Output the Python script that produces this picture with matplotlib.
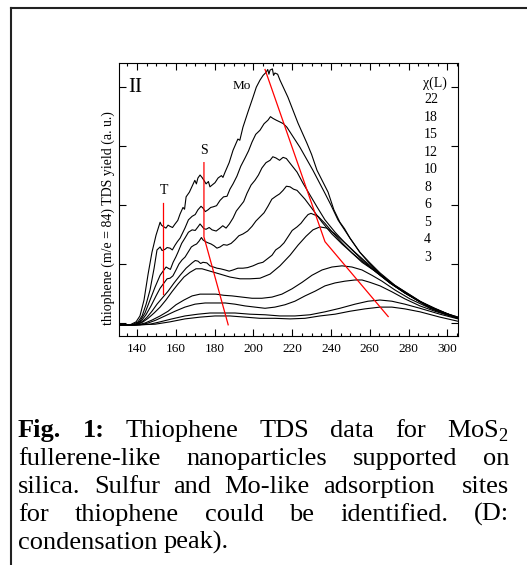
import matplotlib
matplotlib.use('Agg')
import matplotlib.pyplot as plt
from matplotlib.lines import Line2D

plt.rcParams['font.family'] = 'Liberation Serif'
plt.rcParams['mathtext.fontset'] = 'custom'
plt.rcParams['mathtext.rm'] = 'Liberation Serif'

# thiophene TDS curves, one per exposure (L); *_n lists are the noisy wiggles
t_22 = [130.7, 136.4, 139.5, 141.5, 143.6, 145.7, 147.7, 149.8, 151.9, 153.4, 154.9, 157.0, 159.6, 162.2, 165.3, 168.4,
        171.4, 173.5, 175.6, 178.7, 181.8, 185.4, 189.5, 194.6, 199.8, 203.4, 206.5, 208.6, 211.1, 213.7, 217.8, 223.0,
        227.6, 232.8, 238.5, 244.6, 249.8, 254.9, 260.1, 265.3, 273.0, 279.2, 285.9, 291.0, 298.8, 305.5]
y_22 = [-0.03, -0.03, 0.02, 0.12, 0.39, 0.83, 1.20, 1.49, 1.71, 1.64, 1.61, 1.64, 1.68, 1.85, 2.14, 2.32,
        2.46, 2.47, 2.36, 2.34, 2.46, 2.56, 2.93, 3.32, 3.83, 4.12, 4.25, 4.29, 4.24, 4.12, 3.83, 3.39,
        3.05, 2.59, 2.22, 1.71, 1.44, 1.20, 1.02, 0.85, 0.64, 0.51, 0.37, 0.27, 0.17, 0.10]
t_22_n = [152.6, 156.0, 158.3, 161.0, 163.7, 164.5, 167.0, 169.8, 170.6, 172.5, 174.5, 176.8, 177.6, 180.2, 183.5,
          184.3, 187.5, 192.0, 193.0, 197.2, 201.5, 205.0, 207.4, 208.0, 209.8, 210.4, 212.5, 230.0, 241.5, 247.0]
y_22_n = [1.66, 1.66, 1.62, 1.74, 1.96, 1.93, 2.22, 2.42, 2.36, 2.51, 2.42, 2.40, 2.31, 2.38, 2.50,
          2.47, 2.72, 3.12, 3.10, 3.58, 4.00, 4.20, 4.30, 4.22, 4.31, 4.20, 4.22, 2.86, 1.92, 1.60]

t_18 = [130.7, 137.4, 140.5, 142.6, 144.6, 146.7, 148.8, 150.3, 151.9, 154.4, 157.0, 159.6, 162.2, 164.7, 168.4, 171.4,
        174.0, 176.6, 179.2, 182.8, 186.4, 187.9, 191.5, 195.7, 199.3, 203.4, 207.5, 210.1, 213.7, 217.3, 224.0, 230.7,
        236.9, 243.6, 249.8, 254.9, 260.1, 265.3, 273.0, 279.2, 285.9, 291.0, 298.8, 305.5]
y_18 = [-0.03, -0.03, 0.02, 0.12, 0.31, 0.56, 0.93, 1.24, 1.29, 1.25, 1.27, 1.32, 1.44, 1.61, 1.81, 1.92,
        1.95, 1.92, 1.97, 2.08, 2.15, 2.27, 2.49, 2.80, 3.07, 3.27, 3.44, 3.47, 3.41, 3.32, 2.98, 2.59,
        2.20, 1.75, 1.44, 1.20, 1.00, 0.83, 0.63, 0.49, 0.36, 0.25, 0.15, 0.08]
t_18_n = [152.9, 155.5, 158.2, 160.8, 166.5, 170.0, 173.0, 175.2, 178.0, 181.0, 184.6, 189.5, 193.5, 197.5, 201.2,
          205.5, 208.8, 211.8, 215.5, 240.0]
y_18_n = [1.23, 1.28, 1.24, 1.38, 1.75, 1.84, 1.98, 1.89, 1.96, 1.99, 2.14, 2.36, 2.66, 2.92, 3.20,
          3.38, 3.50, 3.44, 3.38, 2.00]

t_15 = [130.7, 138.5, 141.5, 144.1, 146.7, 149.3, 151.9, 153.4, 156.0, 158.6, 161.1, 164.7, 168.4, 171.4, 173.5, 175.6,
        178.7, 182.8, 185.9, 189.5, 193.1, 196.7, 200.8, 204.4, 208.6, 211.6, 215.3, 218.9, 222.5, 225.6, 229.2, 232.8,
        236.9, 242.1, 247.2, 252.4, 257.5, 262.7, 270.4, 278.1, 285.9, 293.6, 305.5]
y_15 = [-0.03, -0.03, 0.03, 0.17, 0.39, 0.61, 0.81, 0.88, 0.93, 1.03, 1.20, 1.44, 1.58, 1.63, 1.64, 1.59,
        1.58, 1.61, 1.61, 1.78, 1.98, 2.20, 2.42, 2.63, 2.76, 2.80, 2.81, 2.71, 2.56, 2.37, 2.17, 1.97,
        1.75, 1.54, 1.36, 1.19, 1.03, 0.88, 0.68, 0.51, 0.36, 0.24, 0.08]
t_15_n = [155.0, 157.2, 160.0, 163.0, 166.5, 170.0, 172.5, 174.5, 177.2, 180.8, 184.2, 187.6, 191.2, 195.0, 198.8,
          202.6, 206.5, 210.0, 213.5, 217.0]
y_15_n = [0.95, 0.91, 1.12, 1.35, 1.54, 1.57, 1.68, 1.60, 1.62, 1.56, 1.65, 1.68, 1.90, 2.06, 2.34,
          2.51, 2.72, 2.82, 2.76, 2.79]

t_12 = [130.7, 139.0, 142.1, 144.6, 147.2, 149.8, 151.9, 153.9, 157.0, 160.1, 163.2, 166.3, 169.4, 172.0, 174.0, 176.6,
        179.7, 182.8, 186.4, 190.5, 194.6, 199.3, 203.4, 207.5, 211.6, 215.3, 218.9, 222.5, 226.6, 230.7, 235.4, 240.5,
        245.7, 250.8, 256.0, 262.7, 270.4, 278.1, 285.9, 293.6, 305.5]
y_12 = [-0.03, -0.03, 0.03, 0.14, 0.29, 0.46, 0.59, 0.68, 0.76, 0.90, 1.07, 1.20, 1.32, 1.39, 1.41, 1.36,
        1.31, 1.29, 1.32, 1.41, 1.51, 1.64, 1.80, 1.98, 2.15, 2.25, 2.31, 2.25, 2.10, 1.92, 1.71, 1.51,
        1.34, 1.19, 1.05, 0.88, 0.68, 0.51, 0.36, 0.24, 0.08]
t_12_n = [155.5, 158.5, 161.6, 164.8, 168.0, 170.7, 173.2, 175.3, 178.2, 181.2, 184.6, 188.5, 192.5, 197.0, 201.3,
          205.5, 209.5, 213.5, 217.0, 220.7]
y_12_n = [0.75, 0.80, 1.00, 1.12, 1.29, 1.34, 1.45, 1.38, 1.34, 1.27, 1.33, 1.35, 1.48, 1.56, 1.73,
          1.87, 2.10, 2.19, 2.32, 2.27]

t_10 = [130.7, 139.5, 142.6, 145.2, 147.7, 150.3, 152.9, 156.0, 159.1, 162.2, 165.3, 168.4, 171.4, 174.0, 177.6, 181.2,
        185.4, 189.5, 194.6, 199.8, 204.9, 209.6, 213.7, 217.8, 222.5, 226.6, 229.7, 233.3, 236.9, 241.0, 245.7, 250.8,
        256.0, 262.7, 270.4, 278.1, 285.9, 293.6, 305.5]
y_10 = [-0.03, -0.03, 0.02, 0.10, 0.20, 0.32, 0.42, 0.54, 0.68, 0.81, 0.93, 1.02, 1.05, 1.03, 0.97, 0.93,
        0.90, 0.90, 0.93, 0.97, 1.03, 1.15, 1.29, 1.46, 1.63, 1.78, 1.86, 1.81, 1.69, 1.53, 1.36, 1.19,
        1.03, 0.88, 0.68, 0.51, 0.36, 0.24, 0.08]
t_10_n = [170.0, 172.8, 176.0, 183.0, 187.5, 192.0, 197.0, 202.5, 211.5, 215.8, 220.0, 224.5, 228.2]
y_10_n = [1.06, 1.01, 1.02, 0.92, 0.88, 0.93, 0.94, 1.01, 1.24, 1.36, 1.57, 1.69, 1.84]

t_8 = [130.7, 140.0, 143.1, 145.7, 148.8, 151.9, 154.9, 158.0, 161.1, 164.2, 167.3, 170.4, 173.5, 177.6, 182.8, 187.9,
       193.1, 198.2, 203.4, 208.6, 213.7, 218.9, 223.0, 227.1, 230.7, 234.3, 237.9, 242.1, 247.2, 252.4, 257.5, 262.7,
       270.4, 278.1, 285.9, 293.6, 305.5]
y_8 = [-0.03, -0.03, 0.02, 0.08, 0.17, 0.27, 0.39, 0.53, 0.66, 0.78, 0.86, 0.92, 0.92, 0.88, 0.83, 0.78,
       0.75, 0.75, 0.76, 0.83, 0.97, 1.15, 1.32, 1.47, 1.58, 1.63, 1.61, 1.51, 1.36, 1.20, 1.05, 0.90,
       0.69, 0.53, 0.37, 0.25, 0.08]

t_6 = [130.7, 140.5, 144.1, 147.7, 151.9, 156.0, 160.1, 164.2, 168.4, 172.5, 176.6, 180.7, 184.8, 189.0, 194.1, 199.3,
       204.4, 209.6, 214.7, 219.9, 225.1, 230.2, 235.4, 240.5, 245.7, 250.8, 256.0, 261.1, 266.3, 273.0, 280.7, 288.5,
       296.2, 305.5]
y_6 = [-0.03, -0.03, 0.00, 0.05, 0.12, 0.20, 0.31, 0.39, 0.46, 0.49, 0.49, 0.49, 0.47, 0.46, 0.44, 0.42,
       0.42, 0.44, 0.49, 0.58, 0.69, 0.81, 0.90, 0.95, 0.97, 0.95, 0.90, 0.81, 0.71, 0.56, 0.41, 0.29,
       0.19, 0.10]

t_5 = [130.7, 141.5, 145.7, 149.8, 154.4, 159.6, 164.7, 169.9, 175.1, 180.2, 185.4, 190.5, 195.7, 200.8, 206.0, 211.1,
       216.3, 221.4, 226.6, 231.8, 236.9, 242.1, 247.2, 252.4, 256.0, 260.1, 265.3, 271.4, 278.1, 285.9, 293.6, 305.5]
y_5 = [-0.03, -0.03, 0.00, 0.05, 0.12, 0.20, 0.27, 0.32, 0.34, 0.34, 0.34, 0.32, 0.29, 0.27, 0.25, 0.27,
       0.31, 0.37, 0.46, 0.54, 0.63, 0.68, 0.71, 0.73, 0.73, 0.69, 0.63, 0.53, 0.41, 0.29, 0.20, 0.08]

t_4 = [130.7, 141.5, 146.7, 151.9, 158.0, 164.7, 171.4, 177.6, 183.8, 190.5, 198.2, 206.0, 213.7, 221.4, 229.2, 236.9,
       244.6, 252.4, 259.1, 265.3, 271.4, 278.1, 285.9, 296.2, 305.5]
y_4 = [-0.03, -0.03, -0.02, 0.02, 0.07, 0.12, 0.15, 0.17, 0.17, 0.17, 0.15, 0.14, 0.12, 0.12, 0.14, 0.19,
       0.25, 0.32, 0.37, 0.39, 0.37, 0.32, 0.25, 0.15, 0.07]

t_3 = [130.7, 141.5, 149.3, 157.0, 164.7, 172.5, 180.2, 187.9, 195.7, 203.4, 211.1, 218.9, 226.6, 234.3, 242.1, 249.8,
       257.5, 265.3, 271.4, 278.1, 285.9, 296.2, 305.5]
y_3 = [-0.03, -0.03, -0.02, 0.02, 0.07, 0.10, 0.12, 0.12, 0.10, 0.08, 0.08, 0.07, 0.08, 0.12, 0.15, 0.20,
       0.24, 0.27, 0.27, 0.24, 0.19, 0.10, 0.03]

exposures = ['22', '18', '15', '12', '10', '8', '6', '5', '4', '3']
curves = [(t_22 + t_22_n, y_22 + y_22_n), (t_18 + t_18_n, y_18 + y_18_n), (t_15 + t_15_n, y_15 + y_15_n),
          (t_12 + t_12_n, y_12 + y_12_n), (t_10 + t_10_n, y_10 + y_10_n),
          (t_8, y_8), (t_6, y_6), (t_5, y_5), (t_4, y_4), (t_3, y_3)]

# red guide lines through the T, S and Mo peaks
t_line_x = [153.2, 153.2]
t_line_y = [0.50, 2.03]
s_line_x = [174.5, 174.5, 187.0]
s_line_y = [2.72, 1.46, -0.03]
mo_line_x = [206.0, 236.9, 269.5]
mo_line_y = [4.30, 1.38, 0.11]

caption = ['Fig. 1: Thiophene TDS data for MoS$_2$',
           'fullerene-like nanoparticles supported on',
           'silica. Sulfur and Mo-like adsorption  sites',
           'for thiophene could be identified. (D:',
           'condensation peak).']

W, H = 527, 565
fig = plt.figure(figsize=(W / 100, H / 100), dpi=100)
ax = fig.add_axes([119 / W, 1 - 336 / H, 339 / W, 273 / H])

for t, y in curves:
    pts = sorted(zip(t, y))
    ax.plot([p[0] for p in pts], [p[1] for p in pts], color='black', lw=0.8)
ax.plot(t_line_x, t_line_y, color='red', lw=0.9)
ax.plot(s_line_x, s_line_y, color='red', lw=0.9)
ax.plot(mo_line_x, mo_line_y, color='red', lw=0.9)

ax.set_xlim(130.7, 305.5)
ax.set_ylim(-0.22, 4.41)
ax.set_xticks(range(140, 301, 20))
ax.set_xticks(range(135, 306, 5), minor=True)
ax.set_yticks([0, 1, 2, 3, 4])
ax.set_yticklabels([])
ax.tick_params(which='both', direction='in', top=True, right=True, width=0.8)
ax.tick_params(which='major', length=5, labelsize=9.5, pad=5)
ax.tick_params(which='minor', length=2.5)
for s in ax.spines.values():
    s.set_linewidth(0.8)

ax.text(135.4, 4.0, 'II', fontsize=15, ha='left', va='center')
ax.text(194, 4.02, 'Mo', fontsize=9.5, ha='center', va='center')
ax.text(174.5, 2.93, 'S', fontsize=10, ha='center', va='center')
ax.text(154.1, 2.24, 'T', fontsize=10, ha='center', va='center')
ax.text(287.4, 4.06, 'χ(L)', fontsize=10, ha='left', va='center')
for i, e in enumerate(exposures):
    ax.text(288, 3.79 - i * 0.297, e, fontsize=10, ha='left', va='center')

fig.text(108 / W, 1 - 218 / H, 'thiophene (m/e = 84) TDS yield (a. u.)',
         rotation=90, fontsize=10, ha='center', va='center')

# frame around the figure
fig.add_artist(Line2D([10.5 / W, 10.5 / W], [0, 1 - 8 / H], color='#222222', lw=1.5))
fig.add_artist(Line2D([10.5 / W, 1], [1 - 8 / H, 1 - 8 / H], color='#222222', lw=1.5))

# justified caption
r = fig.canvas.get_renderer()
x0, x1 = 18, 509
baselines = [437, 465, 493, 521, 549]
for i, line in enumerate(caption):
    words = line.split(' ')
    objs = []
    for j, w in enumerate(words):
        bold = (i == 0 and j < 2)
        objs.append(fig.text(0, 1 - baselines[i] / H, w, fontsize=19,
                             fontweight='bold' if bold else 'normal', va='baseline'))
    widths = [o.get_window_extent(r).width if o.get_text() else 0 for o in objs]
    if i == len(caption) - 1:
        gap = 6.6
    else:
        gap = (x1 - x0 - sum(widths)) / (len(words) - 1)
    x = x0
    for o, wd in zip(objs, widths):
        o.set_x(x / W)
        x += wd + gap

fig.savefig('out.png', dpi=100)
